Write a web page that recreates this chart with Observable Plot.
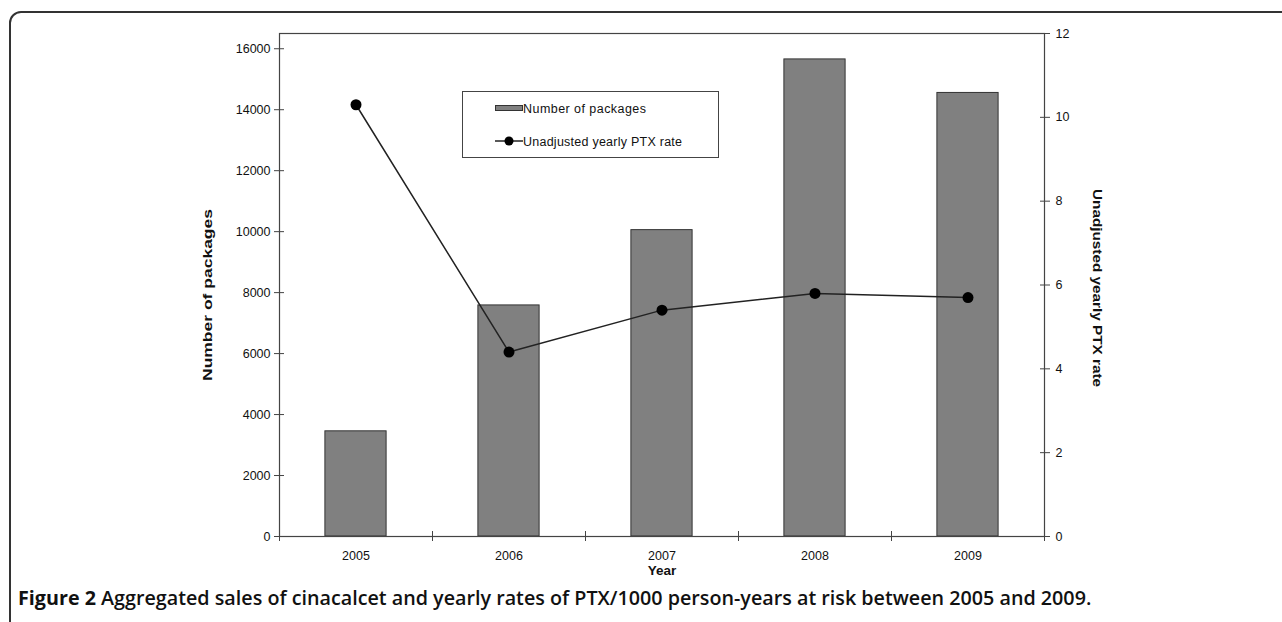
<!DOCTYPE html>
<html>
<head>
<meta charset="utf-8">
<script src="https://cdn.jsdelivr.net/npm/d3@7"></script>
<script src="https://cdn.jsdelivr.net/npm/@observablehq/plot@0.6"></script>
<style>
  html, body { margin: 0; padding: 0; background: #fff; }
  #wrap { position: relative; width: 1282px; height: 622px; overflow: hidden; font-family: "Liberation Sans", Arial, sans-serif; }
  #border { position: absolute; left: 9px; top: 11px; width: 1300px; height: 700px; border: 2px solid #333; border-radius: 12px; box-sizing: border-box; }
  #chart { position: absolute; left: 0; top: 0; }
  #legend { position: absolute; left: 462px; top: 91px; }
  #caption { position: absolute; left: 18px; top: 584px; font-family: "Open Sans", sans-serif; font-size: 19px; font-weight: 600; color: #111; white-space: nowrap; }
  #caption b { font-weight: 700; }
</style>
</head>
<body>
<div id="wrap">
  <div id="border"></div>
  <div id="chart"></div>
  <svg id="legend" width="257" height="67" style="font-family:'Liberation Sans', Arial, sans-serif; font-size:12.5px;">
    <rect x="0.5" y="0.5" width="256" height="66" fill="#fff" stroke="#444"/>
    <rect x="33.5" y="14.5" width="27" height="5" fill="#808080" stroke="#333"/>
    <text id="lg1" x="61" y="21.5" fill="#111" textLength="123" lengthAdjust="spacing">Number of packages</text>
    <line x1="33" y1="50" x2="61" y2="50" stroke="#222" stroke-width="1.5"/>
    <circle cx="47" cy="50" r="4.5" fill="#000"/>
    <text id="lg2" x="61" y="54.5" fill="#111" textLength="159" lengthAdjust="spacing">Unadjusted yearly PTX rate</text>
  </svg>
  <div id="caption"><b>Figure 2</b> Aggregated sales of cinacalcet and yearly rates of PTX/1000 person-years at risk between 2005 and 2009.</div>
</div>
<script>
const years = [2005, 2006, 2007, 2008, 2009];
const packages = [3450, 7580, 10050, 15650, 14550];
const ptxRate = [10.3, 4.4, 5.4, 5.8, 5.7];
const leftTicks = [0, 2000, 4000, 6000, 8000, 10000, 12000, 14000, 16000];
const rightTicks = [0, 2, 4, 6, 8, 10, 12];
const leftMax = 16500;
const rightMax = 12;
const k = leftMax / rightMax;

const data = years.map((y, i) => ({year: y, packages: packages[i], rate: ptxRate[i]}));
const boundaries = [years[0] - 0.5, ...years.map(y => y + 0.5)];

const chart = Plot.plot({
  width: 1282,
  height: 580,
  marginLeft: 279,
  marginRight: 238,
  marginTop: 33,
  marginBottom: 44,
  style: {fontFamily: "'Liberation Sans', Arial, sans-serif", fontSize: "12.5px", color: "#111", background: "transparent"},
  x: {type: "linear", domain: [years[0] - 0.5, years[years.length - 1] + 0.5]},
  y: {domain: [0, leftMax]},
  marks: [
    Plot.rectY(data, {x1: d => d.year - 0.2, x2: d => d.year + 0.2, y: "packages", fill: "#808080", stroke: "#333", strokeWidth: 1}),
    Plot.frame({stroke: "#444", strokeWidth: 1.2}),
    Plot.line(data, {x: "year", y: d => d.rate * k, stroke: "#222", strokeWidth: 1.5}),
    Plot.dot(data, {x: "year", y: d => d.rate * k, r: 5.5, fill: "#000"}),
    Plot.axisY({ticks: leftTicks, tickSize: 10, dx: 5, tickPadding: 4, label: null, tickFormat: d => String(d), stroke: "#444"}),
    Plot.axisY({anchor: "right", ticks: rightTicks.map(r => r * k), tickSize: 10, dx: -5, tickPadding: 6, label: null, tickFormat: d => String(Math.round(d / k)), stroke: "#444"}),
    Plot.axisX({ticks: boundaries, tickSize: 10, dy: -5, tickFormat: () => "", label: null, stroke: "#444"}),
    Plot.axisX({ticks: years, tickSize: 0, tickPadding: 15, tickFormat: d => String(d), label: null}),
    Plot.text(["Number of packages"], {frameAnchor: "left", dx: -72, dy: 10, rotate: -90, textAnchor: "middle", fontWeight: "bold", fontSize: 13, className: "ttl-left"}),
    Plot.text(["Unadjusted yearly PTX rate"], {frameAnchor: "right", dx: 53, dy: 3, rotate: 90, textAnchor: "middle", fontWeight: "bold", fontSize: 13, className: "ttl-right"}),
    Plot.text(["Year"], {frameAnchor: "bottom", dy: 38, fontWeight: "bold", fontSize: 13.5})
  ]
});
document.getElementById("chart").appendChild(chart);
// stretch the vertical titles to match the reference lengths
d3.select(chart).selectAll(".ttl-left text").attr("textLength", 172).attr("lengthAdjust", "spacingAndGlyphs");
d3.select(chart).selectAll(".ttl-right text").attr("textLength", 198).attr("lengthAdjust", "spacingAndGlyphs");
// fit caption width
const cap = document.getElementById("caption");
const w = cap.getBoundingClientRect().width;
cap.style.fontSize = (19 * 1074 / w) + "px";
</script>
</body>
</html>
